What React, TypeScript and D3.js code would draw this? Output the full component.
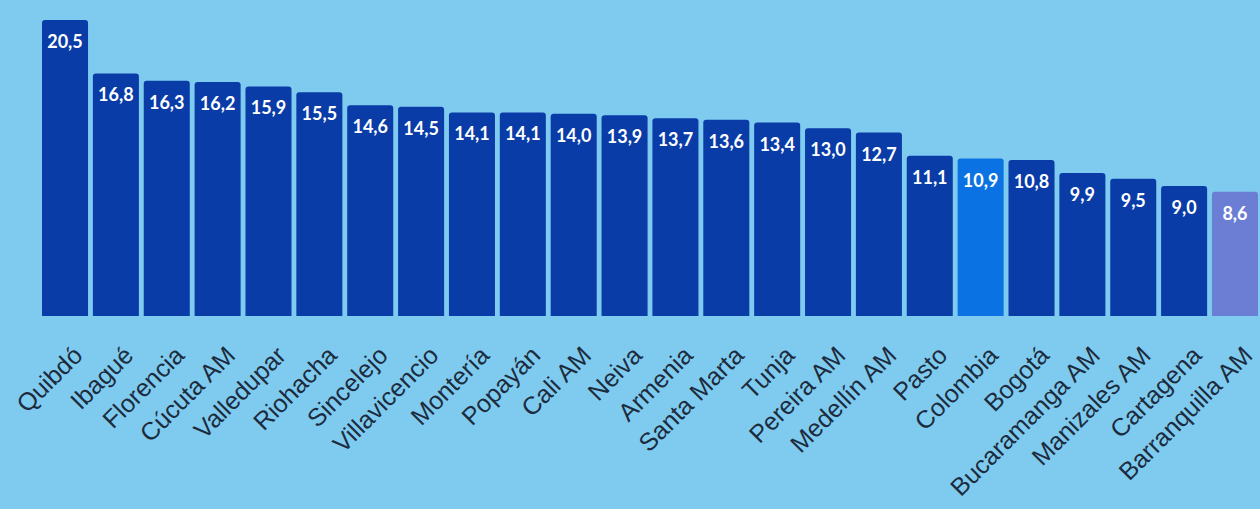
import React, { useEffect, useRef } from 'react';
import * as d3 from 'd3';

const cities = [
  'Quibdó', 'Ibagué', 'Florencia', 'Cúcuta AM', 'Valledupar', 'Riohacha', 'Sincelejo',
  'Villavicencio', 'Montería', 'Popayán', 'Cali AM', 'Neiva', 'Armenia', 'Santa Marta',
  'Tunja', 'Pereira AM', 'Medellín AM', 'Pasto', 'Colombia', 'Bogotá', 'Bucaramanga AM',
  'Manizales AM', 'Cartagena', 'Barranquilla AM',
];
const values = [
  20.5, 16.8, 16.3, 16.2, 15.9, 15.5, 14.6, 14.5, 14.1, 14.1, 14.0, 13.9, 13.7, 13.6,
  13.4, 13.0, 12.7, 11.1, 10.9, 10.8, 9.9, 9.5, 9.0, 8.6,
];
const highlight: Record<string, string> = {
  Colombia: '#0a72e2',
  'Barranquilla AM': '#6c7ed3',
};

const W = 1260;
const H = 509;

const App = () => {
  const ref = useRef<SVGSVGElement>(null);

  useEffect(() => {
    const svg = d3.select(ref.current);
    svg.selectAll('*').remove();

    const left = 42;
    const right = 2;
    const baseline = 316;
    const top = 20;

    const x = d3.scaleBand<string>().domain(cities).range([left, W - right]).paddingInner(0.095).paddingOuter(0);
    const y = d3.scaleLinear().domain([0, 20.5]).range([baseline, top]);

    svg.append('rect').attr('width', W).attr('height', H).attr('fill', '#7fcbef');

    const data = cities.map((c, i) => ({ city: c, value: values[i] }));
    const r = 3;

    svg
      .selectAll('.bar')
      .data(data)
      .enter()
      .append('path')
      .attr('class', 'bar')
      .attr('fill', (d) => highlight[d.city] || '#0a3ca8')
      .attr('d', (d) => {
        const x0 = x(d.city) || 0;
        const w = x.bandwidth();
        const y0 = y(d.value);
        return `M${x0},${baseline}V${y0 + r}Q${x0},${y0} ${x0 + r},${y0}H${x0 + w - r}Q${x0 + w},${y0} ${x0 + w},${y0 + r}V${baseline}Z`;
      });

    svg
      .selectAll('.val')
      .data(data)
      .enter()
      .append('text')
      .attr('class', 'val')
      .attr('x', (d) => (x(d.city) || 0) + x.bandwidth() / 2)
      .attr('y', (d) => y(d.value) + 28)
      .attr('text-anchor', 'middle')
      .attr('fill', '#ffffff')
      .attr('font-family', 'Lato, "Open Sans", sans-serif')
      .attr('font-weight', 700)
      .attr('font-size', 18)
      .text((d) => d.value.toFixed(1).replace('.', ','));

    svg
      .selectAll('.lab')
      .data(cities)
      .enter()
      .append('text')
      .attr('class', 'lab')
      .attr('transform', (d) => `translate(${(x(d) || 0) + x.bandwidth() / 2 + 19},${baseline + 41}) rotate(-45)`)
      .attr('text-anchor', 'end')
      .attr('fill', '#1c2c3e')
      .attr('font-family', '"Liberation Sans", Arial, sans-serif')
      .attr('font-size', 25)
      .text((d) => d);
  }, []);

  return (
    <svg
      ref={ref}
      width={W}
      height={H}
      style={{ position: 'absolute', left: 0, top: 0, display: 'block' }}
    />
  );
};

export default App;
